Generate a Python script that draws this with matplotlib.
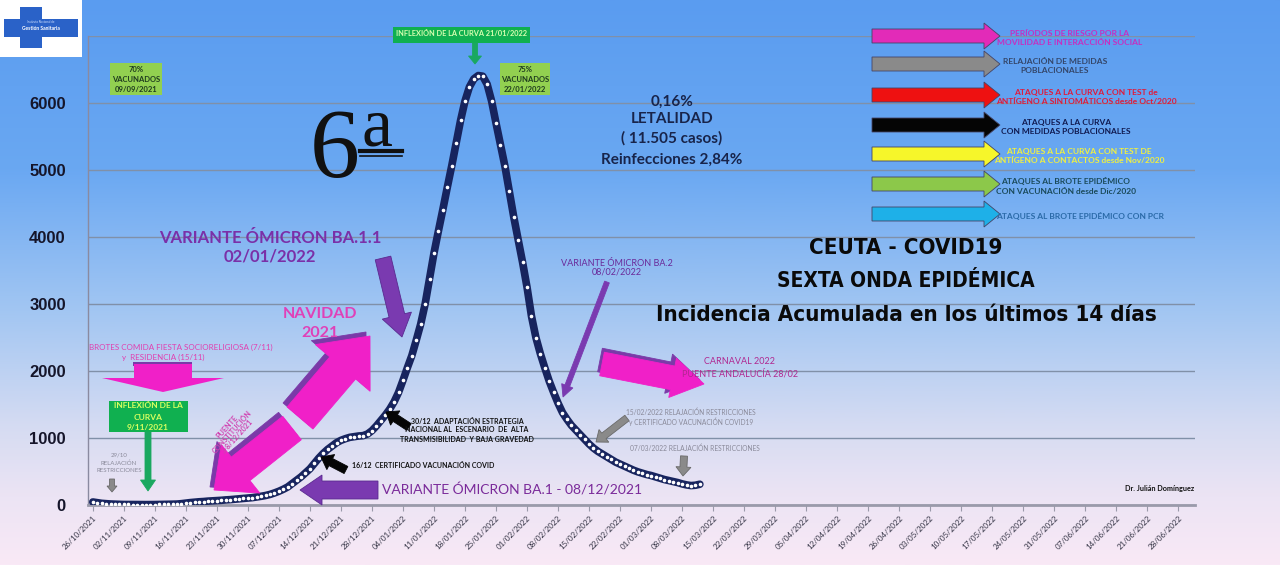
import numpy as np
import pandas as pd
import matplotlib
matplotlib.use('Agg')
import matplotlib.pyplot as plt
import matplotlib.dates as mdates
from matplotlib.patches import FancyArrow, Rectangle
from matplotlib.colors import LinearSegmentedColormap

# Incidencia acumulada 14 dias, Ceuta, valores diarios 26/10/2021 - 12/03/2022
oct_vals = [45, 35, 25, 20, 15, 12]
nov_vals = [10, 8, 8, 7, 7, 6, 6, 6, 7, 8, 9, 10, 12, 14, 20, 28, 36, 42, 48, 52,
            58, 62, 66, 70, 76, 80, 86, 92, 98, 104]
dec_vals = [110, 120, 130, 142, 158, 180, 205, 235, 270, 320, 370, 420, 480, 540,
            620, 700, 770, 830, 880, 930, 965, 990, 1010, 1020, 1030, 1035, 1060,
            1110, 1180, 1260, 1340]
jan_vals = [1430, 1540, 1680, 1860, 2050, 2230, 2460, 2700, 3000, 3380, 3760, 4090,
            4410, 4740, 5060, 5400, 5740, 6030, 6240, 6360, 6410, 6400, 6280, 6030,
            5700, 5380, 5060, 4680, 4300, 3960, 3620]
feb_vals = [3250, 2820, 2500, 2260, 2050, 1850, 1680, 1520, 1380, 1280, 1190, 1120,
            1050, 980, 910, 850, 800, 760, 720, 680, 640, 610, 580, 550, 520, 495,
            475, 455]
mar_vals = [440, 420, 400, 380, 365, 350, 335, 315, 300, 290, 295, 310]

values = oct_vals + nov_vals + dec_vals + jan_vals + feb_vals + mar_vals
dates = pd.date_range('2021-10-26', periods=len(values), freq='D')

tick_dates = pd.date_range('2021-10-26', '2022-06-28', freq='7D')
y_ticks = [0, 1000, 2000, 3000, 4000, 5000, 6000, 7000]
y_labels = ['0', '1000', '2000', '3000', '4000', '5000', '6000', '']

legend_labels = [
    'PERÍODOS DE RIESGO POR LA\nMOVILIDAD E INTERACCIÓN SOCIAL',
    'RELAJACIÓN DE MEDIDAS\nPOBLACIONALES',
    'ATAQUES A LA CURVA CON TEST de\nANTÍGENO A SINTOMÁTICOS desde Oct/2020',
    'ATAQUES A LA CURVA\nCON MEDIDAS POBLACIONALES',
    'ATAQUES A LA CURVA CON TEST DE\nANTÍGENO A CONTACTOS desde Nov/2020',
    'ATAQUES AL BROTE EPIDÉMICO\nCON VACUNACIÓN desde Dic/2020',
    'ATAQUES AL BROTE EPIDÉMICO CON PCR',
]
legend_arrow_colors = ['#e22bb8', '#8a8a8a', '#ee1111', '#050505', '#f6f62a', '#8cc84a', '#1eb0e8']
legend_text_colors = ['#c62fc0', '#34466a', '#e01a3a', '#101a50', '#f0f040', '#1a4a5a', '#2a6aa8']

FONT = 'Lato'
plt.rcParams['font.family'] = [FONT, 'DejaVu Sans']

fig = plt.figure(figsize=(12.8, 5.65), dpi=100)

# fondo degradado azul -> rosa
bg = fig.add_axes([0, 0, 1, 1], zorder=-10)
cmap = LinearSegmentedColormap.from_list('bg', [
    (0.0, '#5a9cf0'), (0.3, '#6aa8f2'), (0.55, '#a2c6f2'),
    (0.75, '#d4dbf2'), (0.88, '#ece4f4'), (1.0, '#f9e9f6')])
bg.imshow(np.linspace(0, 1, 256).reshape(-1, 1), aspect='auto', cmap=cmap,
          extent=[0, 1, 0, 1])
bg.axis('off')

# grafico principal
ax = fig.add_axes([88 / 1280, 60 / 565, (1195 - 88) / 1280, (505 - 36) / 565], zorder=0)
ax.patch.set_alpha(0)
ax.plot(dates, values, color='#17245e', lw=5.5, solid_capstyle='round',
        marker='o', ms=1.6, mfc='white', mec='white', zorder=4)
ax.set_ylim(0, 7000)
ax.set_xlim(pd.Timestamp('2021-10-24 22:00'), pd.Timestamp('2022-07-01 18:00'))
ax.set_yticks(y_ticks)
ax.set_yticklabels(y_labels, fontfamily='Liberation Sans', fontweight='bold',
                   fontsize=12, color='#15152a')
ax.tick_params(axis='y', length=0, pad=16)
ax.set_xticks(tick_dates)
ax.xaxis.set_major_formatter(mdates.DateFormatter('%d/%m/%Y'))
plt.setp(ax.get_xticklabels(), rotation=45, ha='right', va='top',
         rotation_mode='anchor', fontsize=5.8, color='#333344')
ax.tick_params(axis='x', length=4, color='#9a9aaa', pad=3)
ax.grid(axis='y', color='#8090a8', lw=1)
ax.set_axisbelow(True)
for s in ['top', 'right']:
    ax.spines[s].set_visible(False)
ax.spines['bottom'].set_color('#9a9aaa')
ax.spines['bottom'].set_linewidth(2)
ax.spines['left'].set_color('#8a8aa0')
ax.spines['left'].set_linewidth(1)

# capa de anotaciones en pixeles
ov = fig.add_axes([0, 0, 1, 1], zorder=5)
ov.set_xlim(0, 1280)
ov.set_ylim(565, 0)
ov.axis('off')


def arrow(x0, y0, x1, y1, w, hw, hl, fc, ec=None, z=3, lw=0.6):
    ov.add_patch(FancyArrow(x0, y0, x1 - x0, y1 - y0, width=w, head_width=hw,
                            head_length=hl, length_includes_head=True,
                            fc=fc, ec=ec or fc, lw=lw, zorder=z))


def box(x0, y0, x1, y1, fc):
    ov.add_patch(Rectangle((x0, y0), x1 - x0, y1 - y0, fc=fc, ec='none', zorder=3))


def txt(x, y, s, size, color, weight='bold', ha='center', **kw):
    ov.text(x, y, s, fontsize=size, color=color, fontweight=weight, ha=ha,
            va='center', zorder=6, **kw)


# logo
box(0, 0, 82, 57, 'white')
box(20, 7, 42, 48, '#2a62c8')
box(4, 19, 78, 37, '#2a62c8')
txt(41, 28, 'Gestión Sanitaria', 3.6, 'white')
txt(41, 22, 'Instituto Nacional de', 2.2, '#cfe0ff', weight='normal')

# cajas verdes
box(110, 63, 162, 95, '#92d050')
txt(136, 69, '70%', 5.5, '#1e3a1e')
txt(136, 80, 'VACUNADOS', 5.5, '#1e3a1e')
txt(136, 90, '09/09/2021', 5.5, '#1e3a1e')

box(500, 63, 550, 95, '#92d050')
txt(525, 69, '75%', 5.5, '#1e3a1e')
txt(525, 80, 'VACUNADOS', 5.5, '#1e3a1e')
txt(525, 90, '22/01/2022', 5.5, '#1e3a1e')

box(393, 27, 530, 43, '#10b050')
txt(461, 34, 'INFLEXIÓN DE LA CURVA 21/01/2022', 5.3, '#d8ffb0')
arrow(475, 43, 475, 64, 5, 13, 8, '#1aa860')

box(109, 401, 188, 432, '#10b050')
txt(148, 406, 'INFLEXIÓN DE LA', 6, '#d8ff60')
txt(148, 417, 'CURVA', 6, '#d8ff60')
txt(148, 427, '9/11/2021', 6, '#d8ff60')
arrow(148, 432, 148, 491, 6, 15, 11, '#1aa860')

# 6a ola
ov.text(310, 177, '6', fontsize=72, fontfamily='Liberation Serif', color='#111111',
        ha='left', va='baseline', zorder=6)
ov.text(362, 145, 'a', fontsize=50, fontfamily='Liberation Serif', color='#111111',
        ha='left', va='baseline', zorder=6)
ov.plot([360, 402], [151, 151], color='#111111', lw=3, zorder=6)
ov.plot([360, 402], [156, 156], color='#111111', lw=1.2, zorder=6)

# letalidad
for yy, s in [(102, '0,16%'), (119, 'LETALIDAD'), (138, '( 11.505 casos)'),
              (160, 'Reinfecciones 2,84%')]:
    txt(672, yy, s, 11, '#18244a')

# titulo
for yy, s, fs in [(248, 'CEUTA - COVID19', 16), (281, 'SEXTA ONDA EPIDÉMICA', 15),
                  (315, 'Incidencia Acumulada en los últimos 14 días', 16)]:
    ov.text(906, yy, s, fontsize=fs, fontfamily='DejaVu Sans', fontstretch='condensed',
            fontweight='bold', color='#0a0a0a', ha='center', va='center', zorder=6)

# variante BA.1.1
txt(270, 238, 'VARIANTE ÓMICRON BA.1.1', 12, '#7a30a8')
txt(270, 257, '02/01/2022', 12, '#7a30a8')
arrow(383, 258, 402, 337, 16, 30, 22, '#7a3ab0', ec='#5a2a90')

# navidad
txt(320, 314, 'NAVIDAD', 11.5, '#e040b8')
txt(320, 333, '2021', 11.5, '#e040b8')
arrow(296, 414, 366, 332, 34, 72, 42, '#7a3aa8')
arrow(300, 418, 370, 336, 34, 72, 42, '#f020c8')

# puente constitucion
arrow(288, 424, 210, 487, 30, 62, 34, '#7a3aa8')
arrow(292, 428, 214, 490, 30, 62, 34, '#f020c8')
ov.text(232, 432, 'PUENTE\nCONSTITUCIÓN\n3-8/12/2021', fontsize=5.2, color='#d040b0',
        ha='center', va='center', rotation=48, linespacing=1.0, zorder=6,
        fontweight='bold')

# brotes
txt(181, 347, 'BROTES COMIDA FIESTA SOCIORELIGIOSA (7/11)', 5.8, '#e040b0', weight='normal')
txt(163, 357, 'y  RESIDENCIA (15/11)', 5.8, '#e040b0', weight='normal')
box(133, 362, 192, 366, '#7a3aa8')
arrow(163, 364, 163, 392, 58, 122, 14, '#f020c8', lw=0)

# 29/10
txt(119, 455, '29/10', 4.4, '#8a8a9a', weight='normal')
txt(119, 463, 'RELAJACIÓN', 4.4, '#8a8a9a', weight='normal')
txt(119, 471, 'RESTRICCIONES', 4.4, '#8a8a9a', weight='normal')
arrow(112, 479, 112, 492, 5, 10, 6, '#8a8a8a', ec='#6a6a6a')

# certificados y estrategia
arrow(346, 470, 321, 457, 8, 17, 11, '#050505')
txt(352, 466, '16/12  CERTIFICADO VACUNACIÓN COVID', 5, '#111111', ha='left')
arrow(409, 427, 386, 412, 8, 17, 11, '#050505')
txt(467, 421, '30/12  ADAPTACIÓN ESTRATEGIA', 5, '#111111')
txt(467, 430, 'NACIONAL AL  ESCENARIO  DE  ALTA', 5, '#111111')
txt(467, 439, 'TRANSMISIBILIDAD  Y BAJA GRAVEDAD', 5, '#111111')

# variante BA.1
arrow(378, 490, 300, 490, 18, 30, 22, '#7a3ab0', ec='#5a2a90')
txt(382, 490, 'VARIANTE ÓMICRON BA.1 - 08/12/2021', 10, '#7a2a9a', weight='normal', ha='left')

# variante BA.2
txt(617, 263, 'VARIANTE ÓMICRON BA.2', 6.5, '#6a2a9a', weight='normal')
txt(617, 272, '08/02/2022', 6.5, '#6a2a9a', weight='normal')
arrow(607, 282, 563, 397, 5, 12, 12, '#7a3ab0')

# carnaval
arrow(600, 360, 700, 380, 24, 40, 32, '#7a3aa8')
arrow(602, 364, 704, 384, 24, 40, 32, '#f020c8')
txt(740, 362, 'CARNAVAL 2022', 6.5, '#b02890', weight='normal')
txt(740, 374, 'PUENTE ANDALUCÍA 28/02', 6.5, '#b02890', weight='normal')

# relajaciones
txt(691, 412, '15/02/2022 RELAJACIÓN RESTRICCIONES', 4.8, '#8a8a9a', weight='normal')
txt(691, 422, 'y CERTIFICADO VACUNACIÓN COVID19', 4.8, '#8a8a9a', weight='normal')
arrow(627, 418, 596, 442, 7, 16, 10, '#8a8a8a', ec='#6a6a6a')
txt(695, 448, '07/03/2022 RELAJACIÓN RESTRICCIONES', 4.8, '#8a8a9a', weight='normal')
arrow(684, 456, 683, 476, 7, 15, 9, '#8a8a8a', ec='#6a6a6a')

txt(1160, 489, 'Dr. Julián Domínguez', 5.2, '#111111')

# leyenda de flechas
leg_y = [36, 64, 95, 125, 154, 184, 214]
leg_tx = [1070, 1055, 1086, 1066, 1079, 1066, 1080]
for yy, tx, lab, ac, tc in zip(leg_y, leg_tx, legend_labels, legend_arrow_colors,
                               legend_text_colors):
    arrow(872, yy, 1000, yy, 14, 26, 16, ac, ec='#444466', lw=0.6)
    ov.text(tx, yy + 2, lab, fontsize=6, color=tc, fontweight='bold', ha='center',
            va='center', linespacing=1.35, zorder=6)

fig.savefig('out.png', dpi=100)
